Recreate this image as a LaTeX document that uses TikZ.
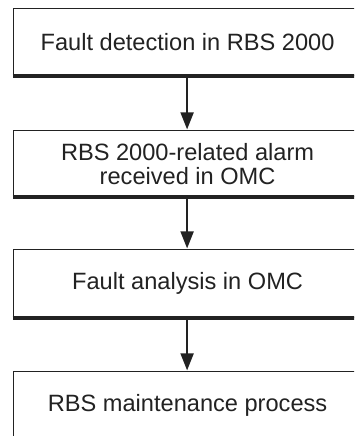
\documentclass[tikz,border=0pt]{standalone}
\usepackage{fontspec}
\setmainfont{Liberation Sans}
\usetikzlibrary{arrows.meta}
\definecolor{ink}{HTML}{222222}
\tikzset{
  flowbox/.style={draw=ink, line width=1.2pt, minimum width=349pt, anchor=north west,
    inner sep=0pt, align=center, text=ink,
    font=\fontsize{23.6pt}{24pt}\selectfont},
  thickbottom/.style={draw=ink, line width=3.5pt},
  flowarrow/.style={draw=ink, line width=2pt, -{Triangle[length=17pt,width=13pt]}}
}
\begin{document}
\begin{tikzpicture}[x=1pt,y=1pt]
\useasboundingbox (0,0) rectangle (354,436);
\clip (0,0) rectangle (354,436);
\fill[white] (0,0) rectangle (354,436);
\node[flowbox, minimum height=67pt] (b1) at (12.5,428) {Fault detection in RBS 2000};
\node[flowbox, minimum height=66pt] (b2) at (12.5,306) {RBS 2000-related alarm\\received in OMC};
\node[flowbox, minimum height=68pt] (b3) at (12.5,187) {Fault analysis in OMC};
\node[flowbox, minimum height=68pt] (b4) at (12.5,65) {RBS maintenance process};
\draw[thickbottom] (b1.south west) -- (b1.south east);
\draw[thickbottom] (b2.south west) -- (b2.south east);
\draw[thickbottom] (b3.south west) -- (b3.south east);
\draw[flowarrow, shorten <=1.5pt, shorten >=0.6pt] ([xshift=-0.5pt]b1.south) -- ([xshift=-0.5pt]b2.north);
\draw[flowarrow, shorten <=1.5pt, shorten >=0.6pt] ([xshift=-0.5pt]b2.south) -- ([xshift=-0.5pt]b3.north);
\draw[flowarrow, shorten <=1.5pt, shorten >=0.6pt] ([xshift=-0.5pt]b3.south) -- ([xshift=-0.5pt]b4.north);
\end{tikzpicture}
\end{document}
